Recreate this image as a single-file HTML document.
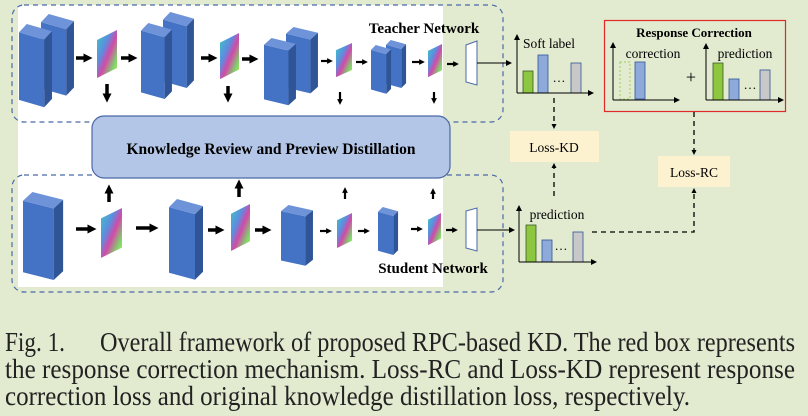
<!DOCTYPE html>
<html><head><meta charset="utf-8">
<style>
html,body{margin:0;padding:0;background:#e2ead0;}
svg{display:block;font-family:"Liberation Serif",serif;}
svg text{font-family:"Liberation Serif",serif;}
</style></head>
<body>
<svg width="808" height="416" viewBox="0 0 808 416" xmlns="http://www.w3.org/2000/svg">
<defs>
  <g id="blk">
    <polygon points="0,8 26,15 26,80 0,73" fill="#4472c4"/>
    <polygon points="0,8 8,0 34,7 26,15" fill="#6f93d8"/>
    <polygon points="26,15 34,7 34,72 26,80" fill="#2f5597"/>
  </g>
  <linearGradient id="fg" x1="0" y1="0" x2="1" y2="1">
    <stop offset="0" stop-color="#3fc7c0"/>
    <stop offset="0.35" stop-color="#5a8fe0"/>
    <stop offset="0.55" stop-color="#d24aa8"/>
    <stop offset="0.8" stop-color="#7fd66a"/>
    <stop offset="1" stop-color="#c8e85a"/>
  </linearGradient>
  <g id="fm"><polygon points="0,10 20,0 20,38 0,48" fill="url(#fg)"/></g>
  <marker id="ah" markerWidth="6" markerHeight="6" refX="5" refY="3" orient="auto" markerUnits="userSpaceOnUse"><path d="M0,0 L6,3 L0,6 z" fill="#000"/></marker>
  <marker id="ab" markerWidth="2.6" markerHeight="2.6" refX="1.3" refY="1.3" orient="auto"><path d="M0,0 L2.6,1.3 L0,2.6 z" fill="#000"/></marker>
</defs>

<rect x="18" y="5" width="425" height="282" fill="#fff"/>
<rect x="12" y="5" width="491" height="117" rx="12" fill="none" stroke="#4a6aa8" stroke-width="1.2" stroke-dasharray="5,4"/>
<rect x="12" y="175" width="491" height="117" rx="12" fill="none" stroke="#4a6aa8" stroke-width="1.2" stroke-dasharray="5,4"/>
<rect x="92" y="116" width="358" height="62" rx="12" fill="#b4c6e7" stroke="#4a6aa8" stroke-width="1.2"/>
<text x="271" y="154" text-anchor="middle" font-size="15.5" font-weight="bold">Knowledge Review and Preview Distillation</text>
<text x="424" y="33" text-anchor="middle" font-size="15" font-weight="bold">Teacher Network</text>
<text x="433" y="273" text-anchor="middle" font-size="15" font-weight="bold">Student Network</text>

<use href="#blk" transform="translate(41,14) scale(0.97,1.02)"/>
<use href="#blk" transform="translate(19,24) scale(0.97,1.04)"/>
<use href="#blk" transform="translate(163,12) scale(0.91,0.95)"/>
<use href="#blk" transform="translate(141,23) scale(0.91,0.95)"/>
<use href="#blk" transform="translate(286,27) scale(0.94,0.83)"/>
<use href="#blk" transform="translate(264,38) scale(0.94,0.84)"/>
<use href="#blk" transform="translate(386,40) scale(0.59,0.6)"/>
<use href="#blk" transform="translate(371,45) scale(0.59,0.61)"/>
<use href="#blk" transform="translate(23,192) scale(1.18,1.1)"/>
<use href="#blk" transform="translate(169,199) scale(1,1.01)"/>
<use href="#blk" transform="translate(281,205) scale(0.94,0.76)"/>
<use href="#blk" transform="translate(378,207) scale(0.59,0.6)"/>
<use href="#fm" transform="translate(97,30)"/>
<use href="#fm" transform="translate(220,33) scale(0.95,0.96)"/>
<use href="#fm" transform="translate(336,43) scale(0.8,0.71)"/>
<use href="#fm" transform="translate(428,44) scale(0.7,0.69)"/>
<use href="#fm" transform="translate(101,208) scale(1.05,1.04)"/>
<use href="#fm" transform="translate(231,204) scale(0.95,0.98)"/>
<use href="#fm" transform="translate(337,213) scale(0.75,0.73)"/>
<use href="#fm" transform="translate(428,213) scale(0.65,0.67)"/>

<g stroke="#000" marker-end="url(#ab)">
  <g stroke-width="3.5">
    <line x1="76" y1="58" x2="88" y2="58"/><line x1="121" y1="58" x2="133" y2="58"/>
    <line x1="201" y1="58" x2="213" y2="58"/><line x1="242" y1="59" x2="254" y2="59"/>
    <line x1="76" y1="229" x2="92" y2="229"/><line x1="136" y1="228" x2="154" y2="228"/>
    <line x1="208" y1="230" x2="220" y2="230"/><line x1="255" y1="230" x2="267" y2="230"/>
    <line x1="107" y1="84" x2="107" y2="98"/><line x1="228" y1="86" x2="228" y2="98"/>
    <line x1="109" y1="202" x2="109" y2="189"/><line x1="239" y1="197" x2="239" y2="184"/>
  </g>
  <g stroke-width="2.2">
    <line x1="321" y1="61" x2="330" y2="61"/><line x1="356" y1="62" x2="365" y2="62"/>
    <line x1="412" y1="62" x2="422" y2="62"/><line x1="447" y1="64" x2="456" y2="64"/>
    <line x1="320" y1="231" x2="329" y2="231"/><line x1="358" y1="231" x2="367" y2="231"/>
    <line x1="411" y1="229" x2="420" y2="229"/><line x1="446" y1="230" x2="455" y2="230"/>
    <line x1="340" y1="92" x2="340" y2="102"/><line x1="434" y1="92" x2="434" y2="101"/>
    <line x1="345" y1="199" x2="345" y2="190"/><line x1="433" y1="199" x2="433" y2="191"/>
  </g>
</g>

<polygon points="466,45 477,41 477,85 466,82" fill="#fff" stroke="#4a6aa8" stroke-width="1"/>
<polygon points="466,211 477,208 477,251 466,248" fill="#fff" stroke="#4a6aa8" stroke-width="1"/>
<line x1="477" y1="63" x2="511" y2="63" stroke="#000" stroke-width="1" marker-end="url(#ah)"/>
<line x1="477" y1="230" x2="514" y2="230" stroke="#000" stroke-width="1" marker-end="url(#ah)"/>

<text x="549" y="48" text-anchor="middle" font-size="13.5">Soft label</text>
<rect x="523" y="71" width="10" height="22" fill="#8dc63f" stroke="#3a5a2a" stroke-width="0.8"/>
<rect x="538" y="55" width="10" height="38" fill="#8eaadb" stroke="#2f5597" stroke-width="0.8"/>
<text x="559" y="82" text-anchor="middle" font-size="13">…</text>
<rect x="571" y="63" width="10" height="30" fill="#c8c8c8" stroke="#2f5597" stroke-width="0.8"/>
<line x1="517" y1="93" x2="517" y2="35" stroke="#000" stroke-width="1" marker-end="url(#ah)"/>
<line x1="517" y1="93" x2="593" y2="93" stroke="#000" stroke-width="1" marker-end="url(#ah)"/>

<text x="557" y="219" text-anchor="middle" font-size="13.5">prediction</text>
<rect x="526" y="225" width="10" height="37" fill="#8dc63f" stroke="#3a5a2a" stroke-width="0.8"/>
<rect x="542" y="240" width="10" height="22" fill="#8eaadb" stroke="#2f5597" stroke-width="0.8"/>
<text x="561" y="250" text-anchor="middle" font-size="13">…</text>
<rect x="573" y="232" width="10" height="30" fill="#c8c8c8" stroke="#2f5597" stroke-width="0.8"/>
<line x1="519" y1="262" x2="519" y2="206" stroke="#000" stroke-width="1" marker-end="url(#ah)"/>
<line x1="519" y1="262" x2="596" y2="262" stroke="#000" stroke-width="1" marker-end="url(#ah)"/>

<rect x="604.5" y="20.5" width="181" height="91" fill="none" stroke="#e02a2a" stroke-width="1.2"/>
<text x="694" y="37" text-anchor="middle" font-size="13" font-weight="bold">Response Correction</text>
<text x="653" y="58" text-anchor="middle" font-size="13.5">correction</text>
<rect x="620" y="62" width="10" height="37" fill="none" stroke="#8dc63f" stroke-width="0.8" stroke-dasharray="2,2"/>
<rect x="635" y="62" width="10" height="37" fill="#8eaadb" stroke="#2f5597" stroke-width="0.8"/>
<line x1="613" y1="100" x2="613" y2="43" stroke="#000" stroke-width="1" marker-end="url(#ah)"/>
<line x1="613" y1="100" x2="679" y2="100" stroke="#000" stroke-width="1" marker-end="url(#ah)"/>
<text x="691" y="83" text-anchor="middle" font-size="18">+</text>
<text x="745" y="58" text-anchor="middle" font-size="13.5">prediction</text>
<rect x="713" y="63" width="10" height="37" fill="#8dc63f" stroke="#3a5a2a" stroke-width="0.8"/>
<rect x="729" y="79" width="10" height="21" fill="#8eaadb" stroke="#2f5597" stroke-width="0.8"/>
<text x="750" y="89" text-anchor="middle" font-size="13">…</text>
<rect x="760" y="70" width="10" height="30" fill="#c8c8c8" stroke="#2f5597" stroke-width="0.8"/>
<line x1="706" y1="100" x2="706" y2="44" stroke="#000" stroke-width="1" marker-end="url(#ah)"/>
<line x1="706" y1="100" x2="783" y2="100" stroke="#000" stroke-width="1" marker-end="url(#ah)"/>

<rect x="510" y="131" width="89" height="31" fill="#fdf2d0"/>
<text x="554" y="152" text-anchor="middle" font-size="13.5">Loss-KD</text>
<rect x="658" y="156" width="72" height="31" fill="#fdf2d0"/>
<text x="694" y="177" text-anchor="middle" font-size="13.5">Loss-RC</text>

<g stroke="#000" stroke-width="1.3" stroke-dasharray="5,4" fill="none">
  <line x1="554" y1="98" x2="554" y2="125"/>
  <line x1="554" y1="196" x2="554" y2="168"/>
  <line x1="694" y1="112" x2="694" y2="150"/>
  <polyline points="592,232 694,232 694,193"/>
</g>
<g fill="#000">
  <path d="M551.5,124 L556.5,124 L554,129 z"/>
  <path d="M551.5,168 L556.5,168 L554,163 z"/>
  <path d="M691.5,150 L696.5,150 L694,155 z"/>
  <path d="M691.5,193 L696.5,193 L694,188 z"/>
</g>

<g font-size="27" fill="#222">
  <text x="5" y="351" textLength="60" lengthAdjust="spacingAndGlyphs">Fig. 1.</text>
  <text x="100" y="351" textLength="695" lengthAdjust="spacingAndGlyphs">Overall framework of proposed RPC-based KD. The red box represents</text>
  <text x="5" y="378" textLength="790" lengthAdjust="spacingAndGlyphs">the response correction mechanism. Loss-RC and Loss-KD represent response</text>
  <text x="5" y="405" textLength="685" lengthAdjust="spacingAndGlyphs">correction loss and original knowledge distillation loss, respectively.</text>
</g>
</svg>
</body></html>
